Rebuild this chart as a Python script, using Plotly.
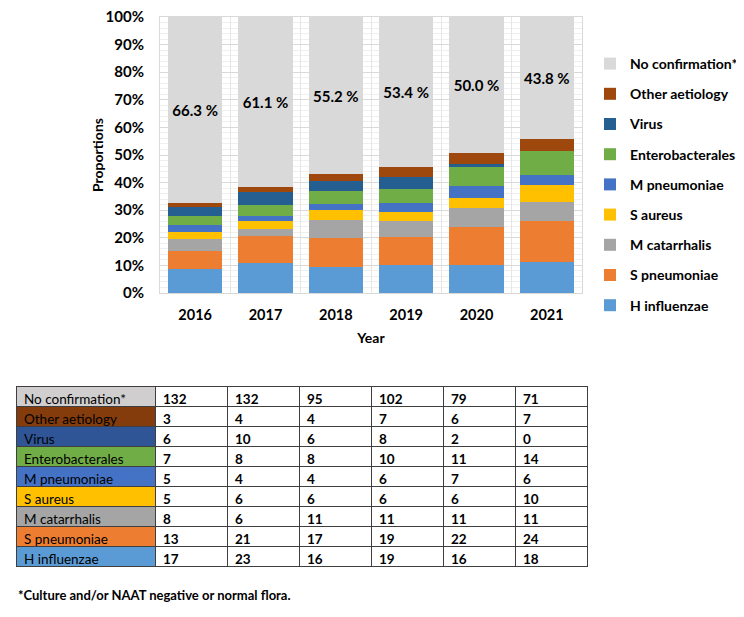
import plotly.graph_objects as go

years = ["2016", "2017", "2018", "2019", "2020", "2021"]

# bottom of the stack first
categories = ["H influenzae", "S pneumoniae", "M catarrhalis", "S aureus",
              "M pneumoniae", "Enterobacterales", "Virus", "Other aetiology",
              "No confirmation*"]

h_influenzae = [17, 23, 16, 19, 16, 18]
s_pneumoniae = [13, 21, 17, 19, 22, 24]
m_catarrhalis = [8, 6, 11, 11, 11, 11]
s_aureus = [5, 6, 6, 6, 6, 10]
m_pneumoniae = [5, 4, 4, 6, 7, 6]
enterobacterales = [7, 8, 8, 10, 11, 14]
virus = [6, 10, 6, 8, 2, 0]
other_aetiology = [3, 4, 4, 7, 6, 7]
no_confirmation = [132, 132, 95, 102, 79, 71]

no_conf_labels = ["66.3 %", "61.1 %", "55.2 %", "53.4 %", "50.0 %", "43.8 %"]

series = [h_influenzae, s_pneumoniae, m_catarrhalis, s_aureus, m_pneumoniae,
          enterobacterales, virus, other_aetiology, no_confirmation]

bar_colors = ["#5B9BD5", "#ED7D31", "#A5A5A5", "#FFC000", "#4472C4",
              "#70AD47", "#255E91", "#9E480E", "#D9D9D9"]
# the table label cells use slightly different shades
table_colors = ["#5B9BD5", "#ED7D31", "#A5A5A5", "#FFC000", "#4472C4",
                "#70AD47", "#2F5597", "#843C0C", "#D0CECE"]

FONT = "Lato"
W, H = 744, 617
# plot area in px
PL, PR, PT, PB = 152, 574, 9, 285

fig = go.Figure()

for i, (name, vals, col) in enumerate(zip(categories, series, bar_colors)):
    kw = {}
    if name == "No confirmation*":
        kw = dict(text=no_conf_labels, textposition="inside",
                  insidetextanchor="middle", textangle=0,
                  constraintext="none",
                  textfont=dict(family=FONT, size=15, color="black",
                                weight="bold"))
    fig.add_trace(go.Bar(x=years, y=vals, name=name, marker_color=col,
                         marker_line_width=0, legendgroup=name,
                         legendrank=100 - i, **kw))

# table: top row as header, the rest as cells (top to bottom)
rows = list(zip(categories, series, table_colors))[::-1]
head_name, head_vals, head_col = rows[0]
body = rows[1:]

header_vals = [head_name] + [str(v) for v in head_vals]
header_fill = [head_col] + ["white"] * 6

cell_cols = [[r[0] for r in body]]
for i in range(len(years)):
    cell_cols.append([str(r[1][i]) for r in body])
cell_fill = [[r[2] for r in body]] + [["white"] * len(body)] * len(years)

fig.add_trace(go.Table(
    domain=dict(x=[8 / W, 579 / W], y=[1 - 605 / H, 1 - 378 / H]),
    columnwidth=[139] + [72] * 6,
    header=dict(values=header_vals, height=20, align="left",
                fill=dict(color=header_fill),
                line=dict(color="#3F3F3F", width=1),
                font=dict(family=FONT, size=13.5, color="black",
                          weight=["normal"] + ["bold"] * 6)),
    cells=dict(values=cell_cols, height=20, align="left",
               fill=dict(color=cell_fill),
               line=dict(color="#3F3F3F", width=1),
               font=dict(family=FONT, size=13.5, color="black",
                         weight=["normal"] + ["bold"] * 6)),
))

fig.add_annotation(text="<b>*Culture and/or NAAT negative or normal flora.</b>",
                   xref="paper", yref="paper", x=8 / W, y=1 - 587 / H,
                   xanchor="left", yanchor="middle", showarrow=False,
                   font=dict(family=FONT, size=13, color="black"))

fig.add_annotation(text="<b>Proportions</b>", textangle=-90,
                   xref="paper", yref="paper", x=89 / W,
                   y=1 - (PT + PB) / 2 / H, xanchor="center", yanchor="middle",
                   showarrow=False,
                   font=dict(family=FONT, size=14, color="black"))

fig.update_layout(
    width=W, height=H,
    margin=dict(l=0, r=0, t=0, b=0),
    barmode="stack", barnorm="percent", bargap=0.23,
    plot_bgcolor="white", paper_bgcolor="white",
    font=dict(family=FONT, size=14, color="#222222"),
    legend=dict(x=582 / W, y=1 - 40 / H, xanchor="left", yanchor="top",
                tracegroupgap=9,
                font=dict(family=FONT, size=14, color="black", weight="bold"),
                itemwidth=30),
    xaxis=dict(domain=[PL / W, PR / W], type="category", automargin=False,
               tickson="boundaries", showgrid=True, gridcolor="#E6E6E6",
               ticks="", showline=True, linecolor="#D9D9D9", mirror=True,
               ticklabelstandoff=9,
               tickfont=dict(family=FONT, size=14.5, color="black", weight="bold"),
               title=dict(text="Year", standoff=10,
                          font=dict(family=FONT, size=14, color="black",
                                    weight="bold"))),
    yaxis=dict(domain=[1 - PB / H, 1 - PT / H], range=[0, 100], dtick=10,
               automargin=False, ticklabeloverflow="allow",
               ticksuffix="%", showgrid=True, gridcolor="#D9D9D9",
               minor=dict(dtick=2, showgrid=True, gridcolor="#EFEFEF"),
               showline=True, linecolor="#D9D9D9", mirror=True,
               zeroline=False, ticks="", ticklabelstandoff=12,
               tickfont=dict(family=FONT, size=15, color="black", weight="bold")),
)

fig.write_html("out.html")
